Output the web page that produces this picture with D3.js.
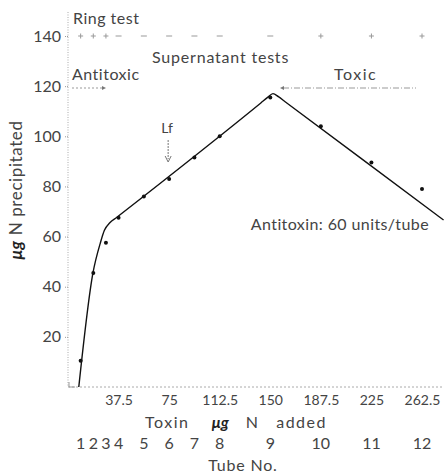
<!DOCTYPE html>
<html lang="en">
	<head>
		<meta charset="utf-8">
		<title>Toxin - antitoxin precipitation</title>
		<script src="https://d3js.org/d3.v7.min.js"></script>
		<style>
			body{
				margin: 0;
				background: #fff;
			}
			text{
				font-family: 'Lato', 'Open Sans', sans-serif;
				fill: #444;
			}
		</style>
	</head>
	<body>
		<script>
			//Width and height
			var w = 444;
			var h = 475;

			//data
			var tubeNo = [1, 2, 3, 4, 5, 6, 7, 8, 9, 10, 11, 12];
			var toxinAdded = [9.375, 18.75, 28.125, 37.5, 56.25, 75, 93.75, 112.5, 150, 187.5, 225, 262.5]; //ug N per tube
			var nPrecipitated = [10.5, 45.5, 57.5, 67.5, 76, 83, 91.5, 100, 115.5, 104, 89.5, 79];
			var ringTest = ["+", "+", "+", "-", "-", "-", "-", "-", "-", "+", "+", "+"];
			var xTicks = [37.5, 75, 112.5, 150, 187.5, 225, 262.5];
			var yTicks = [20, 40, 60, 80, 100, 120, 140];
			//hand drawn fitted curve
			var fitX = [8, 18.5, 24, 27, 31, 36, 143, 148, 152, 156, 161, 273, 278.5];
			var fitY = [0, 45.5, 57.5, 62.5, 65.5, 67.6, 113.3, 115.5, 117, 115.8, 113.8, 68.8, 66.6];
			var lf = 75;

			//scales
			var xScale = d3.scaleLinear()
							.domain([0, 262.5])
							.range([68, 422]);

			var yScale = d3.scaleLinear()
							.domain([0, 140])
							.range([387, 36]);

			var svg = d3.select("body")
						.append("svg")
						.attr("width", w)
						.attr("height", h);

			//Y-AXIS (dotted)
			var yAxis = d3.axisLeft(yScale)
							.tickValues(yTicks)
							.tickSize(3)
							.tickPadding(4);
			var gy = svg.append("g")
				.attr("transform", "translate(" + xScale(0) + ",0)")
				.call(yAxis);
			gy.select(".domain").remove();
			gy.selectAll(".tick line").attr("stroke", "#999").attr("stroke-dasharray", "1,1");
			gy.selectAll(".tick text")
				.attr("font-size", 16)
				.attr("fill", "#444")
				.attr("font-family", "Lato, sans-serif");
			svg.append("line")
				.attr("x1", xScale(0)).attr("x2", xScale(0))
				.attr("y1", 12).attr("y2", yScale(0))
				.attr("stroke", "#aaa")
				.attr("stroke-dasharray", "1,1.5");

			//X-AXIS (dotted)
			var xAxis = d3.axisBottom(xScale)
							.tickValues(xTicks)
							.tickSize(0)
							.tickPadding(8)
							.tickFormat(function(d) { return d; });
			var gx = svg.append("g")
				.attr("transform", "translate(0," + yScale(0) + ")")
				.call(xAxis);
			gx.select(".domain").remove();
			gx.selectAll(".tick text")
				.attr("font-size", 14)
				.attr("fill", "#444")
				.attr("font-family", "Lato, sans-serif");
			svg.append("line")
				.attr("x1", xScale(0)).attr("x2", w)
				.attr("y1", yScale(0)).attr("y2", yScale(0))
				.attr("stroke", "#aaa")
				.attr("stroke-dasharray", "2,2");
			svg.append("path")//little corner mark
				.attr("d", "M" + (xScale(0) + 1) + "," + (yScale(0) - 5) + "V" + yScale(0) + "h6")
				.attr("fill", "none")
				.attr("stroke", "#999");

			//fitted curve
			var fit = fitX.map(function(d, i) { return [d, fitY[i]]; });
			var line = d3.line()
						.x(function(d) { return xScale(d[0]); })
						.y(function(d) { return yScale(d[1]); })
						.curve(d3.curveMonotoneX);
			svg.append("path")
				.datum(fit)
				.attr("d", line)
				.attr("fill", "none")
				.attr("stroke", "#111")
				.attr("stroke-width", 1.4);

			//data points
			svg.selectAll("circle")
				.data(toxinAdded)
				.enter()
				.append("circle")
				.attr("cx", function(d) { return xScale(d); })
				.attr("cy", function(d, i) { return yScale(nPrecipitated[i]); })
				.attr("r", 2)
				.attr("fill", "#111");

			//ring test row
			svg.append("text")
				.attr("x", 73).attr("y", 24)
				.attr("font-size", 16)
				.attr("letter-spacing", 0.5)
				.text("Ring test");
			svg.selectAll(".ring")
				.data(ringTest)
				.enter()
				.append("path")
				.attr("class", "ring")
				.attr("d", function(d, i) {
					var x = xScale(toxinAdded[i]), y = 36;
					return d == "+" ? "M" + (x - 2.5) + "," + y + "h5M" + x + "," + (y - 2.5) + "v5"
					                : "M" + (x - 3) + "," + y + "h6";
				})
				.attr("stroke", "#999")
				.attr("fill", "none");

			svg.append("text")
				.attr("x", 152).attr("y", 63)
				.attr("font-size", 16)
				.attr("letter-spacing", 0.8)
				.text("Supernatant tests");

			//antitoxic / toxic zones
			svg.append("text")
				.attr("x", 72).attr("y", 80)
				.attr("font-size", 16)
				.attr("letter-spacing", 0.5)
				.text("Antitoxic");
			svg.append("text")
				.attr("x", 334).attr("y", 80)
				.attr("font-size", 16)
				.attr("letter-spacing", 1.5)
				.text("Toxic");
			svg.append("line")
				.attr("x1", 72).attr("x2", 104)
				.attr("y1", 88).attr("y2", 88)
				.attr("stroke", "#999")
				.attr("stroke-dasharray", "2,2");
			svg.append("path")
				.attr("d", "M106,88l-4,-2v4z")
				.attr("fill", "#777");
			svg.append("line")
				.attr("x1", 283).attr("x2", 416)
				.attr("y1", 88).attr("y2", 88)
				.attr("stroke", "#999")
				.attr("stroke-dasharray", "6,2,1,2");
			svg.append("path")
				.attr("d", "M280,88l4,-2v4z")
				.attr("fill", "#777");

			//Lf marker
			svg.append("text")
				.attr("x", xScale(lf) - 2).attr("y", 133)
				.attr("text-anchor", "middle")
				.attr("font-size", 14)
				.text("Lf");
			svg.append("line")
				.attr("x1", xScale(lf) - 1).attr("x2", xScale(lf) - 1)
				.attr("y1", 140).attr("y2", 159)
				.attr("stroke", "#777")
				.attr("stroke-dasharray", "2,1");
			svg.append("path")
				.attr("d", "M" + (xScale(lf) - 4) + ",156l3,6l3,-6")
				.attr("fill", "none")
				.attr("stroke", "#777");

			svg.append("text")
				.attr("x", 429).attr("y", 230)
				.attr("text-anchor", "end")
				.attr("font-size", 16)
				.attr("letter-spacing", 0.4)
				.text("Antitoxin: 60 units/tube");

			//y-axis title
			var yt = svg.append("text")
				.attr("transform", "translate(22,190) rotate(-90)")
				.attr("text-anchor", "middle")
				.attr("font-size", 17)
				.attr("letter-spacing", 0.6);
			yt.append("tspan").attr("font-style", "italic").attr("font-weight", "bold").attr("fill", "#222").text("\u03bcg");
			yt.append("tspan").text(" N precipitated");

			//x-axis titles
			var xt = svg.append("text")
				.attr("x", 236).attr("y", 428)
				.attr("text-anchor", "middle")
				.attr("font-size", 16)
				.attr("xml:space", "preserve");
			xt.append("tspan").attr("letter-spacing", 1.5).text("Toxin    ");
			xt.append("tspan").attr("font-style", "italic").attr("font-weight", "bold").attr("fill", "#222").text("\u03bcg");
			xt.append("tspan").attr("letter-spacing", 1.5).text("   N   added");

			svg.selectAll(".tube")
				.data(tubeNo)
				.enter()
				.append("text")
				.attr("class", "tube")
				.attr("x", function(d, i) { return xScale(toxinAdded[i]); })
				.attr("y", 449)
				.attr("text-anchor", "middle")
				.attr("font-size", 16)
				.text(function(d) { return d; });

			svg.append("text")
				.attr("x", 243).attr("y", 471)
				.attr("text-anchor", "middle")
				.attr("font-size", 16)
				.attr("letter-spacing", 0.8)
				.text("Tube No.");
		</script>
	</body>
</html>
